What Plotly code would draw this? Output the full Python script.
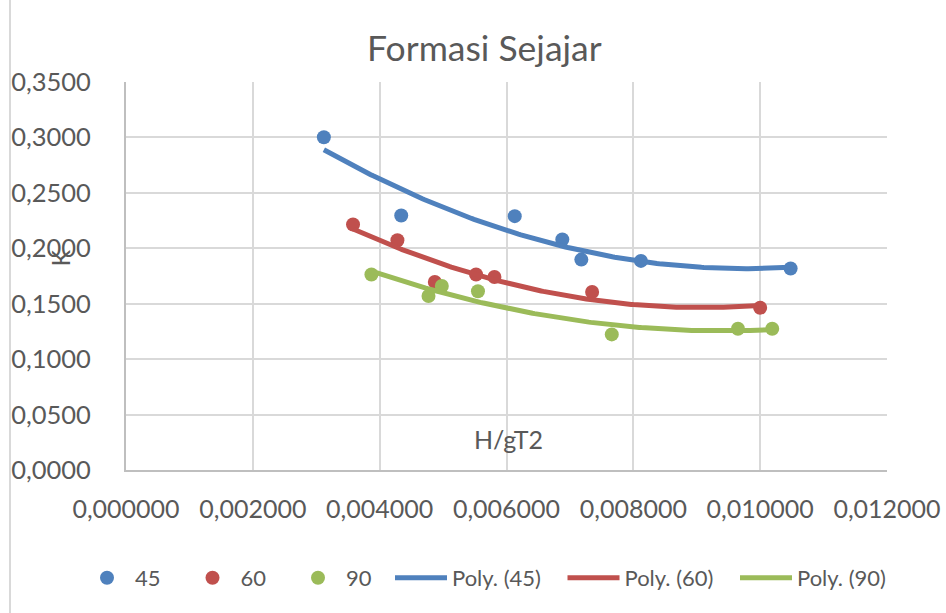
import numpy as np
import plotly.graph_objects as go

# H/gT2 and K values for each angle group
x_45 = [0.00312, 0.00434, 0.00613, 0.00688, 0.00718, 0.00812, 0.01048]
k_45 = [0.3002, 0.2296, 0.2290, 0.2079, 0.1898, 0.1886, 0.1817]

x_60 = [0.00358, 0.00428, 0.00487, 0.00552, 0.00581, 0.00735, 0.01000]
k_60 = [0.2215, 0.2073, 0.1696, 0.1763, 0.1741, 0.1605, 0.1464]

x_90 = [0.00387, 0.00477, 0.00498, 0.00555, 0.00766, 0.00965, 0.01019]
k_90 = [0.1763, 0.1569, 0.1660, 0.1612, 0.1223, 0.1274, 0.1274]

labels = ["45", "60", "90"]
colors = ["#4F81BD", "#C0504D", "#9BBB59"]
series = [(x_45, k_45), (x_60, k_60), (x_90, k_90)]

FONT = "Lato"
TEXT = "#595959"

fig = go.Figure()

# scatter points
for (xs, ks), name, col in zip(series, labels, colors):
    fig.add_trace(go.Scatter(
        x=xs, y=ks, mode="markers", name=name,
        marker=dict(color=col, size=14, line=dict(width=0)),
        legend="legend",
    ))

# second-order polynomial trendlines
for (xs, ks), name, col in zip(series, labels, colors):
    coef = np.polyfit(xs, ks, 2)
    xx = np.linspace(min(xs), max(xs), 200)
    fig.add_trace(go.Scatter(
        x=xx, y=np.polyval(coef, xx), mode="lines", name=f"Poly. ({name})",
        line=dict(color=col, width=5),
        legend="legend2",
    ))

fig.update_layout(
    width=946, height=613,
    margin=dict(l=126, r=59, t=82, b=143, autoexpand=False),
    paper_bgcolor="white", plot_bgcolor="white",
    separators=",.",
    font=dict(family=FONT, color=TEXT, size=25),
    title=dict(text="Formasi Sejajar", x=0.512, xanchor="center",
               y=1 - 49 / 613, yanchor="middle",
               font=dict(family=FONT, size=35.5, color=TEXT)),
    xaxis=dict(range=[0, 0.012], dtick=0.002, tick0=0, tickformat=".6f",
               showgrid=True, gridcolor="#D9D9D9", gridwidth=2,
               showline=True, linecolor="#BFBFBF", linewidth=2,
               zeroline=False, ticks="", ticklabelstandoff=16,
               automargin=False, tickfont=dict(size=25, color=TEXT)),
    yaxis=dict(range=[0, 0.35], dtick=0.05, tick0=0, tickformat=".4f",
               showgrid=True, gridcolor="#D9D9D9", gridwidth=2,
               showline=True, linecolor="#BFBFBF", linewidth=2,
               zeroline=False, ticks="", ticklabelstandoff=28,
               automargin=False, tickfont=dict(size=25.5, color=TEXT)),
    legend=dict(orientation="h", xref="container", yref="container",
                x=79 / 946, y=1 - 578 / 613, xanchor="left", yanchor="middle",
                entrywidth=44.5, itemwidth=46, font=dict(size=22, color=TEXT),
                bgcolor="rgba(0,0,0,0)"),
    legend2=dict(orientation="h", xref="container", yref="container",
                 x=390 / 946, y=1 - 578 / 613, xanchor="left", yanchor="middle",
                 entrywidth=105.5, itemwidth=52, font=dict(size=22, color=TEXT),
                 bgcolor="rgba(0,0,0,0)"),
    showlegend=True,
)

# axis titles placed inside / over the plot region
fig.add_annotation(text="K", xref="paper", yref="paper",
                   x=-66 / 761, y=(469 - 258) / 387, textangle=-90,
                   xanchor="center", yanchor="middle",
                   showarrow=False, font=dict(size=25, color=TEXT))
fig.add_annotation(text="H/gT2", xref="paper", yref="paper",
                   x=(508 - 126) / 761, y=(469 - 438) / 387,
                   xanchor="center", yanchor="middle",
                   showarrow=False, font=dict(size=25, color=TEXT))

# chart frame edge on the left
fig.add_shape(type="line", xref="paper", yref="paper",
              x0=-116 / 761, x1=-116 / 761, y0=-143 / 387, y1=(387 + 82) / 387,
              line=dict(color="#D9D9D9", width=2))

fig.write_html("out.html")
